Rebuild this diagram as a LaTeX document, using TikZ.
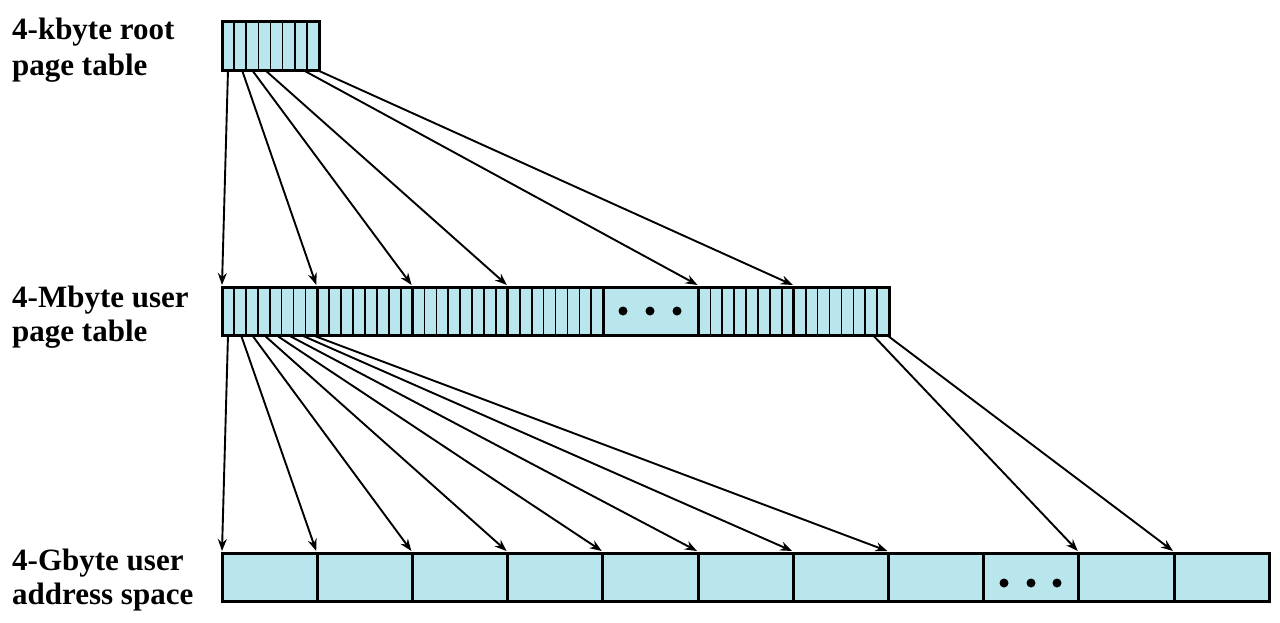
\documentclass[tikz,border=0pt]{standalone}
\usepackage{fontspec}
\setmainfont{Liberation Serif}
\usetikzlibrary{arrows.meta}
\definecolor{cellfill}{RGB}{184,230,236}
\begin{document}
\begin{tikzpicture}[x=1pt,y=-1pt,
  cell/.style={draw=black, line width=3pt, fill=cellfill, minimum width=95.3pt,
    minimum height=48pt, anchor=north west, inner sep=0pt, outer sep=0pt},
  lbl/.style={font=\fontsize{31}{36}\selectfont\bfseries, anchor=base west, inner sep=0pt},
  link/.style={line width=1.9pt, -{Stealth[length=12pt,width=9pt]}},
  slot/.style={line width=1.7pt},
  dot/.style={circle, fill=black, minimum size=9pt, inner sep=0pt}]

\useasboundingbox (0,0) rectangle (1280,622);

% labels
\node[lbl] (l1a) at (12,39) {4-kbyte root};
\node[lbl] (l1b) at (12,75) {page table};
\node[lbl] (l2a) at (12,307) {4-Mbyte user};
\node[lbl] (l2b) at (12,341) {page table};
\node[lbl] (l3a) at (12,570) {4-Gbyte user};
\node[lbl] (l3b) at (12,604) {address space};

% root page table
\node[cell, minimum width=97pt, minimum height=49pt] (root) at (222,21) {};
\foreach \i in {1,...,7} \draw[slot] ({222+\i*97/8},21) -- ++(0,49);

% user page table
\foreach \k in {1,...,7} \node[cell] (m\k) at ({222+(\k-1)*95.3},287) {};
\foreach \k in {1,2,3,4,6,7}
  \foreach \i in {1,...,7} \draw[slot] ({222+(\k-1)*95.3+\i*95.3/8},287) -- ++(0,48);
\node[dot] (md1) at (623,311) {};
\node[dot] (md2) at (650,311) {};
\node[dot] (md3) at (677,311) {};

% user address space
\foreach \k in {1,...,11} \node[cell] (b\k) at ({222+(\k-1)*95.2},553) {};
\node[dot] (bd1) at (1004,583) {};
\node[dot] (bd2) at (1031,583) {};
\node[dot] (bd3) at (1057,583) {};

% root -> user page table
\draw[link] ([xshift=6pt]root.south west) -- ([yshift=2pt]m1.north west);
\draw[link] ([xshift=20pt]root.south west) -- ([xshift=-1pt,yshift=2pt]m2.north west);
\draw[link] ([xshift=30pt]root.south west) -- ([xshift=-1pt,yshift=2pt]m3.north west);
\draw[link] ([xshift=43pt]root.south west) -- ([xshift=-1pt,yshift=2pt]m4.north west);
\draw[link] ([xshift=81pt]root.south west) -- ([xshift=-1pt,yshift=2pt]m6.north west);
\draw[link] ([xshift=95pt]root.south west) -- ([xshift=-1pt,yshift=2pt]m7.north west);

% user page table -> address space
\draw[link] ([xshift=6pt]m1.south west) -- ([yshift=2pt]b1.north west);
\draw[link] ([xshift=19pt]m1.south west) -- ([xshift=-1pt,yshift=2pt]b2.north west);
\draw[link] ([xshift=30pt]m1.south west) -- ([xshift=-1pt,yshift=2pt]b3.north west);
\draw[link] ([xshift=42pt]m1.south west) -- ([xshift=-1pt,yshift=2pt]b4.north west);
\draw[link] ([xshift=54pt]m1.south west) -- ([xshift=-1pt,yshift=2pt]b5.north west);
\draw[link] ([xshift=66pt]m1.south west) -- ([xshift=-1pt,yshift=2pt]b6.north west);
\draw[link] ([xshift=79pt]m1.south west) -- ([xshift=-1pt,yshift=2pt]b7.north west);
\draw[link] ([xshift=90pt]m1.south west) -- ([xshift=-1pt,yshift=2pt]b8.north west);
\draw[link] ([xshift=79pt]m7.south west) -- ([xshift=-1pt,yshift=2pt]b10.north west);
\draw[link] ([xshift=93pt]m7.south west) -- ([xshift=-1pt,yshift=2pt]b11.north west);
\end{tikzpicture}
\end{document}
